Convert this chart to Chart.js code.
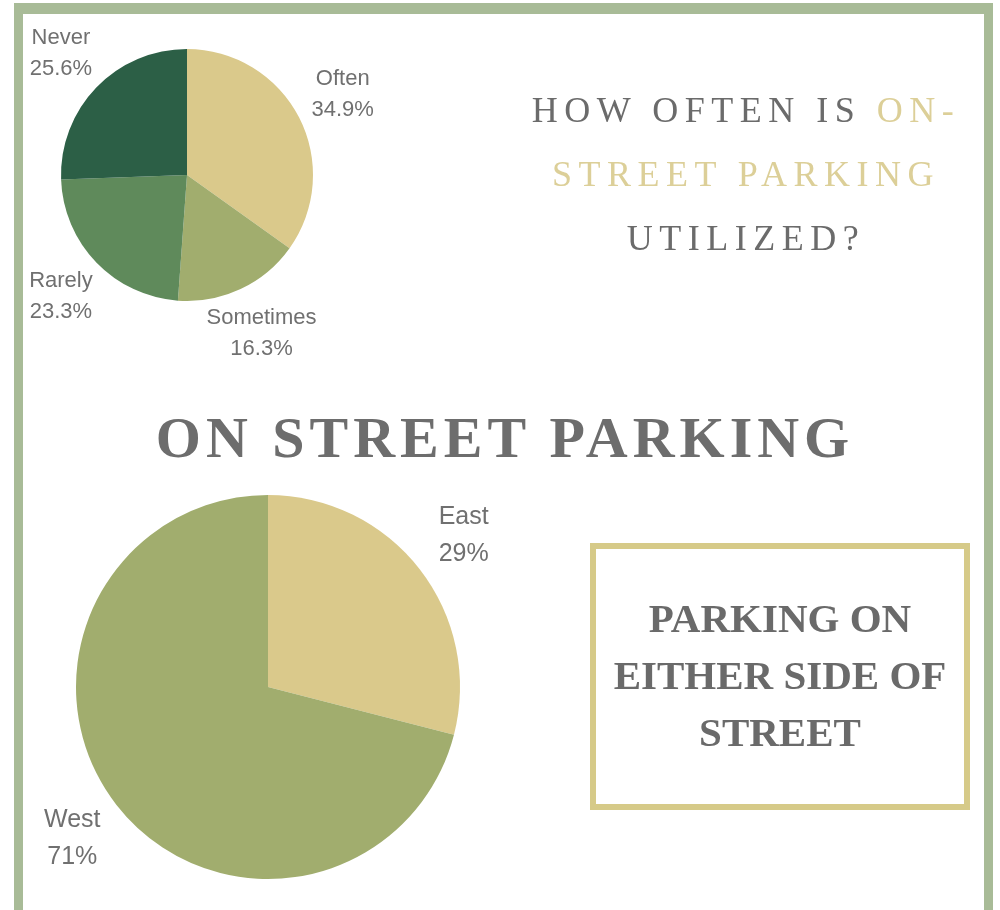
<!DOCTYPE html>
<html>
<head>
<meta charset="utf-8">
<script src="https://cdn.jsdelivr.net/npm/chart.js@4/dist/chart.umd.min.js"></script>
<style>
  html, body { margin: 0; padding: 0; background: #ffffff; width: 1000px; height: 910px; overflow: hidden; position: relative; }
  #frame { position: absolute; left: 14px; top: 3px; width: 961px; height: 910px; border: 9px solid #a8bb97; border-top-width: 11px; pointer-events: none; }
  canvas { position: absolute; }
  #c1 { left: 0px; top: -15px; }
  #c2 { left: 0px; top: 464px; }
  .title { position: absolute; font-family: "Liberation Serif", "DejaVu Serif", serif; color: #6b6b6b; text-align: center; white-space: nowrap; }
  #q { left: 500px; width: 480px; top: 78px; font-size: 36px; line-height: 64px; letter-spacing: 6.5px; padding-left: 6px; }
  #q .gold { color: #dccf98; }
  #main { left: 100px; width: 800px; top: 403px; font-size: 58px; font-weight: bold; letter-spacing: 5px; padding-left: 5px; line-height: 70px; color: #6d6d6d; }
  #box { position: absolute; left: 590px; top: 543px; width: 368px; height: 255px; border: 6px solid #d6ca88; }
  #boxtxt { left: 590px; width: 380px; top: 590px; font-size: 41px; font-weight: bold; line-height: 57px; color: #6a6a6a; }
</style>
</head>
<body>
<canvas id="c1" width="374" height="380"></canvas>
<canvas id="c2" width="536" height="446"></canvas>
<div id="frame"></div>
<div id="q" class="title">HOW OFTEN IS <span class="gold">ON-</span><br><span class="gold">STREET PARKING</span><br>UTILIZED?</div>
<div id="main" class="title">ON STREET PARKING</div>
<div id="box"></div>
<div id="boxtxt" class="title">PARKING ON<br>EITHER SIDE OF<br>STREET</div>
<script>
// Top pie: how often is on-street parking utilized
const usageCategories = ["Often", "Sometimes", "Rarely", "Never"];
const usageValues = [34.9, 16.3, 23.3, 25.6];
const usageColors = ["#dac98b", "#a1ad6e", "#5f8a5b", "#2c5f46"];

// Bottom pie: parking on either side of street
const sideCategories = ["East", "West"];
const sideValues = [29, 71];
const sideColors = ["#dac98b", "#a1ad6e"];

const outsideLabels = {
  id: 'outsideLabels',
  afterDatasetsDraw(chart, args, opts) {
    const ctx = chart.ctx;
    const meta = chart.getDatasetMeta(0);
    const ds = chart.data.datasets[0];
    ctx.save();
    ctx.font = opts.fontSize + 'px "Liberation Sans", Arial, sans-serif';
    ctx.fillStyle = '#707070';
    ctx.textAlign = 'center';
    ctx.textBaseline = 'middle';
    meta.data.forEach((arc, i) => {
      const p = arc.getProps(['x', 'y', 'startAngle', 'endAngle', 'outerRadius'], true);
      const mid = (p.startAngle + p.endAngle) / 2;
      const d = p.outerRadius * opts.factor;
      const cx = p.x + Math.cos(mid) * d;
      const cy = p.y + Math.sin(mid) * d;
      ctx.fillText(chart.data.labels[i], cx, cy - opts.gap / 2);
      ctx.fillText(ds.data[i] + '%', cx, cy + opts.gap / 2);
    });
    ctx.restore();
  }
};

function makePie(id, labels, values, colors, pad, labelOpts) {
  return new Chart(document.getElementById(id), {
    type: 'pie',
    data: { labels: labels, datasets: [{ data: values, backgroundColor: colors, borderWidth: 0 }] },
    options: {
      responsive: false,
      animation: false,
      devicePixelRatio: 1,
      layout: { padding: pad },
      plugins: { legend: { display: false }, tooltip: { enabled: false }, outsideLabels: labelOpts }
    },
    plugins: [outsideLabels]
  });
}

makePie('c1', usageCategories, usageValues, usageColors,
  { left: 61, right: 61, top: 64, bottom: 64 },
  { factor: 1.39, fontSize: 22, gap: 31 });
makePie('c2', sideCategories, sideValues, sideColors,
  { left: 76, right: 76, top: 31, bottom: 31 },
  { factor: 1.29, fontSize: 25, gap: 37 });
</script>
</body>
</html>
